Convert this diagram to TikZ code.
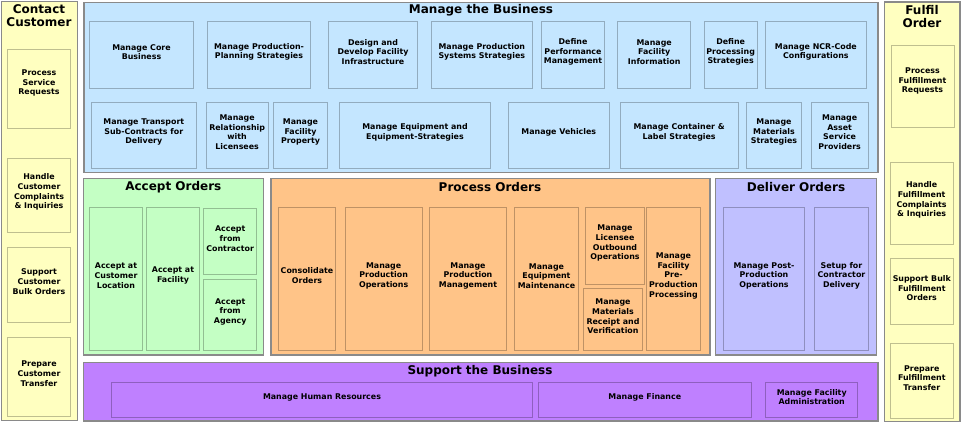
\documentclass[tikz,border=0pt]{standalone}
\usepackage{fontspec}
\setmainfont{DejaVu Sans}
\usetikzlibrary{fit}
\definecolor{cyel}{HTML}{FFFFC0}
\definecolor{cblu}{HTML}{C4E6FF}
\definecolor{cgrn}{HTML}{C4FFC4}
\definecolor{cora}{HTML}{FFC488}
\definecolor{clav}{HTML}{C0C0FF}
\definecolor{cpur}{HTML}{BF80FF}
\definecolor{cframe}{HTML}{8A8A8A}
\tikzset{
  obox/.style={draw=cframe, line width=1.8pt, inner sep=0pt},
  ibox/.style={draw=black, draw opacity=0.25, line width=0.9pt, inner sep=0pt,
    align=center, font=\bfseries\fontsize{7.9}{9.7}\selectfont},
  ttl/.style={align=center, inner sep=0pt, font=\bfseries\fontsize{12}{13}\selectfont},
  lbl/.style={align=center, inner sep=0pt, font=\bfseries\fontsize{7.9}{9.7}\selectfont},
}
\begin{document}
\begin{tikzpicture}[x=1pt,y=-1pt]
\useasboundingbox[fill=white] (0,0) rectangle (962,425);
% ---------- Contact Customer ----------
\node[obox, fill=cyel, fit={(1.5,1.5) (77.5,420.5)}] (cc) {};
\node[ttl] (cct) at (39,15.5) {Contact\\Customer};
\node[ibox, fill=cyel, fit={(7,49) (70.7,128)}] (psr) {};
\node[lbl] (psrt) at (39,83) {Process\\Service\\Requests};
\node[ibox, fill=cyel, fit={(7.3,158) (70.7,232)}] (hcc) {Handle\\Customer\\Complaints\\\& Inquiries};
\node[ibox, fill=cyel, fit={(7.3,247) (70.7,322)}] (scb) {Support\\Customer\\Bulk Orders};
\node[ibox, fill=cyel, fit={(7.3,337) (70.7,416)}] (pct) {Prepare\\Customer\\Transfer};
% ---------- Manage the Business ----------
\node[obox, fill=cblu, fit={(84,2.5) (878,172.5)}] (mb) {};
\node[ttl] (mbt) at (481,10.7) {Manage the Business};
\node[ibox, fill=cblu, fit={(89.3,21.3) (193.7,88.7)}] (m1) {Manage Core\\Business};
\node[ibox, fill=cblu, fit={(207.3,21.3) (310.7,88.7)}] (m2) {Manage Production-\\Planning Strategies};
\node[ibox, fill=cblu, fit={(328.3,21.3) (417.7,88.7)}] (m3) {Design and\\Develop Facility\\Infrastructure};
\node[ibox, fill=cblu, fit={(431,21.3) (532.7,88.7)}] (m4) {Manage Production\\Systems Strategies};
\node[ibox, fill=cblu, fit={(541.7,21.3) (604.3,88.7)}] (m5) {Define\\Performance\\Management};
\node[ibox, fill=cblu, fit={(617.7,21.3) (690.7,88.7)}] (m6) {Manage\\Facility\\Information};
\node[ibox, fill=cblu, fit={(704,21.3) (757.3,88.7)}] (m7) {Define\\Processing\\Strategies};
\node[ibox, fill=cblu, fit={(765,21.3) (866.7,88.7)}] (m8) {Manage NCR-Code\\Configurations};
\node[ibox, fill=cblu, fit={(91.3,102.3) (196.3,168)}] (n1) {Manage Transport\\Sub-Contracts for\\Delivery};
\node[ibox, fill=cblu, fit={(206,102.3) (268.3,168)}] (n2) {Manage\\Relationship\\with\\Licensees};
\node[ibox, fill=cblu, fit={(273.3,102.3) (327.7,168)}] (n3) {Manage\\Facility\\Property};
\node[ibox, fill=cblu, fit={(339.3,102.3) (490.7,168)}] (n4) {Manage Equipment and\\Equipment-Strategies};
\node[ibox, fill=cblu, fit={(508.3,102.3) (609.3,168)}] (n5) {Manage Vehicles};
\node[ibox, fill=cblu, fit={(620,102.3) (738.3,168)}] (n6) {Manage Container \&\\Label Strategies};
\node[ibox, fill=cblu, fit={(746.3,102.3) (801.7,168)}] (n7) {Manage\\Materials\\Strategies};
\node[ibox, fill=cblu, fit={(811,102.3) (868.3,168)}] (n8) {Manage\\Asset\\Service\\Providers};
% ---------- Fulfil Order ----------
\node[obox, fill=cyel, fit={(884.5,2) (960,421.5)}] (fo) {};
\node[ttl] (fot) at (922,16.5) {Fulfil\\Order};
\node[ibox, fill=cyel, fit={(891,45) (954.3,127.3)}] (pfr) {};
\node[lbl] (pfrt) at (922.5,81) {Process\\Fulfillment\\Requests};
\node[ibox, fill=cyel, fit={(890,162) (953.3,244)}] (hfc) {Handle\\Fulfillment\\Complaints\\\& Inquiries};
\node[ibox, fill=cyel, fit={(890.3,258.3) (953.3,324)}] (sbf) {Support Bulk\\Fulfillment\\Orders};
\node[ibox, fill=cyel, fit={(890.3,343.3) (953.3,418.3)}] (pft) {Prepare\\Fulfillment\\Transfer};
% ---------- Accept Orders ----------
\node[obox, fill=cgrn, fit={(83.5,178.5) (263.5,355)}] (ao) {};
\node[ttl] (aot) at (173.3,186.7) {Accept Orders};
\node[ibox, fill=cgrn, fit={(89.3,207.3) (142.7,350)}] (a1) {Accept at\\Customer\\Location};
\node[ibox, fill=cgrn, fit={(146.3,207.3) (199.7,350)}] (a2) {Accept at\\Facility};
\node[ibox, fill=cgrn, fit={(203.7,208.3) (256.7,274.7)}] (a3) {Accept\\from\\Contractor};
\node[ibox, fill=cgrn, fit={(203.7,279.3) (256.7,350)}] (a4) {Accept\\from\\Agency};
% ---------- Process Orders ----------
\node[obox, fill=cora, fit={(271,178.5) (710,355)}] (po) {};
\node[ttl] (pot) at (490,186.7) {Process Orders};
\node[ibox, fill=cora, fit={(278.3,207.3) (335.7,350.3)}] (p1) {Consolidate\\Orders};
\node[ibox, fill=cora, fit={(345.3,207.3) (422,350.3)}] (p2) {Manage\\Production\\Operations};
\node[ibox, fill=cora, fit={(429.3,207.3) (506.7,350.3)}] (p3) {Manage\\Production\\Management};
\node[ibox, fill=cora, fit={(514.3,207.3) (578.7,350.3)}] (p4) {Manage\\Equipment\\Maintenance};
\node[ibox, fill=cora, fit={(585.3,207.3) (644.7,284.7)}] (p5) {Manage\\Licensee\\Outbound\\Operations};
\node[ibox, fill=cora, fit={(583.3,288.7) (642.7,350.3)}] (p6) {Manage\\Materials\\Receipt and\\Verification};
\node[ibox, fill=cora, fit={(646.3,207.3) (700.7,350.3)}] (p7) {Manage\\Facility\\Pre-\\Production\\Processing};
% ---------- Deliver Orders ----------
\node[obox, fill=clav, fit={(715.5,178.5) (876.5,355)}] (dor) {};
\node[ttl] (dot) at (796,186.7) {Deliver Orders};
\node[ibox, fill=clav, fit={(723.3,207.3) (804.7,350)}] (d1) {Manage Post-\\Production\\Operations};
\node[ibox, fill=clav, fit={(814.3,207.3) (868.7,350)}] (d2) {Setup for\\Contractor\\Delivery};
% ---------- Support the Business ----------
\node[obox, fill=cpur, fit={(83.5,362.5) (878,421)}] (sb) {};
\node[ttl] (sbt) at (480,370.7) {Support the Business};
\node[ibox, fill=cpur, fit={(111.3,382.3) (532.7,417.7)}] (s1) {Manage Human Resources};
\node[ibox, fill=cpur, fit={(538.3,382.3) (751.3,417.7)}] (s2) {Manage Finance};
\node[ibox, fill=cpur, fit={(765.7,382.3) (857.7,417.7)}] (s3) {Manage Facility\\Administration};
\end{tikzpicture}
\end{document}
